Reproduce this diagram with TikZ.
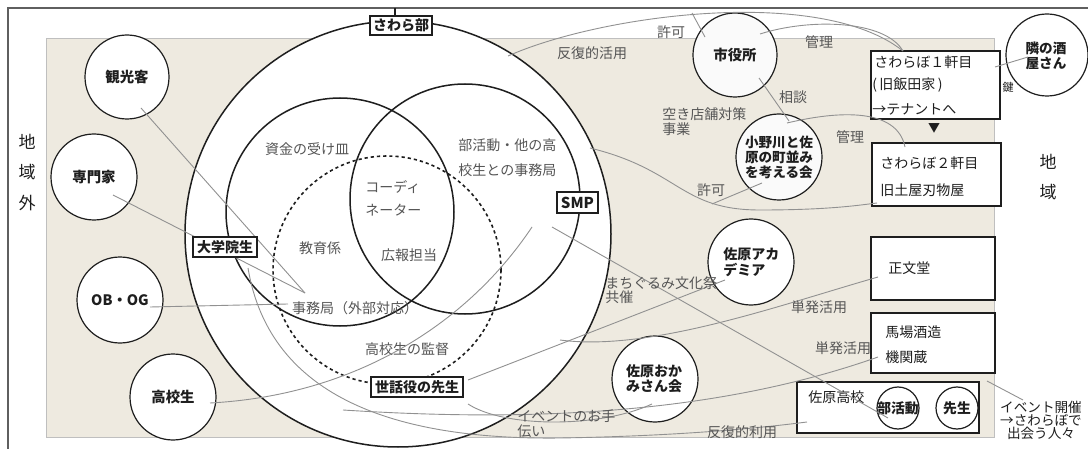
\documentclass[tikz,border=0pt]{standalone}
\usepackage{fontspec}
\setmainfont{Noto Sans CJK JP}
\definecolor{beige}{RGB}{238,234,224}
\definecolor{lblc}{RGB}{85,85,85}
\definecolor{connc}{RGB}{145,145,145}
\definecolor{ink}{RGB}{30,30,30}
\definecolor{framec}{RGB}{95,95,95}
\begin{document}
\begin{tikzpicture}[x=0.5pt,y=-0.5pt,
  circ/.style={circle, draw=ink, line width=0.6pt, fill=white, inner sep=0pt},
  ctext/.style={inner sep=0pt, text=ink, font=\fontsize{7.2}{7.2}\selectfont\bfseries, align=center},
  bigc/.style={circle, draw=ink, line width=0.75pt, inner sep=0pt},
  boxn/.style={draw=ink, line width=0.75pt, fill=white, inner sep=0pt},
  tagbox/.style={draw=ink, line width=0.7pt, fill=white, inner sep=1.3pt, text=ink, font=\fontsize{7}{7}\selectfont\bfseries},
  lbl/.style={text=lblc, font=\fontsize{7}{7}\selectfont, inner sep=0pt},
  btxt/.style={text=ink, font=\fontsize{7}{7}\selectfont, inner sep=0pt, anchor=west},
  conn/.style={draw=connc, line width=0.45pt},
  big/.style={text=ink, font=\fontsize{8.5}{8.5}\selectfont, inner sep=0pt}]
\useasboundingbox (0,0) rectangle (1088,449);
% frame and region
\fill[white] (0,0) rectangle (1088,449);
\draw[framec, line width=1pt] (8,449) -- (8,8) -- (1088,8);
\fill[beige] (46,39) rectangle (994,437);
\draw[black!25, line width=0.5pt] (46,39) rectangle (994,437);

% region labels
\node[big] (gai1) at (27,142) {地};
\node[big] (gai2) at (27,172) {域};
\node[big] (gai3) at (27,203) {外};
\node[big] (nai1) at (1048,162) {地};
\node[big] (nai2) at (1048,192) {域};

% big circles
\node[bigc, fill=white, minimum size=213pt] (bukai) at (398,234) {};
\node[bigc, minimum size=114pt] (shikin) at (340,212) {};
\node[bigc, minimum size=115pt] (jimukyoku) at (465,199) {};
\node[circle, draw=ink, line width=0.8pt, dash pattern=on 1.6pt off 1.5pt, inner sep=0pt, minimum size=114pt] (kyoiku) at (387,270) {};

% inner labels
\node[lbl] (t1) at (307,149) {資金の受け皿};
\node[lbl, anchor=west] (t2) at (365,187) {コーディ};
\node[lbl, anchor=west] (t3) at (365,210) {ネーター};
\node[lbl, anchor=west] (t4) at (458,145) {部活動・他の高};
\node[lbl, anchor=west] (t5) at (458,170) {校生との事務局};
\node[lbl] (t6) at (320,248) {教育係};
\node[lbl] (t7) at (409,255) {広報担当};
\node[lbl] (t8) at (355,308) {事務局（外部対応）};
\node[lbl] (t9) at (407,349) {高校生の監督};

% small circles left
\node[circ, minimum size=42pt] (kanko) at (127,77) {};
\node[ctext] at (kanko) {観光客};
\node[circ, minimum size=43pt] (senmon) at (94,177) {};
\node[ctext] at (senmon) {専門家};
\node[circ, minimum size=43pt] (obog) at (120,300) {};
\node[ctext] at (obog) {OB・OG};
\node[circ, minimum size=43pt] (koko) at (173,397) {};
\node[ctext] at (koko) {高校生};

% right circles
\node[circ, fill=black!2, minimum size=42pt] (shiyaku) at (735,55) {};
\node[ctext] at (shiyaku) {市役所};
\node[circ, fill=black!2, minimum size=43pt] (onogawa) at (779,157) {};
\node[ctext, font=\fontsize{6.8}{5.6}\selectfont\bfseries] at (onogawa) {小野川と佐\\原の町並み\\を考える会};
\node[circ, minimum size=41pt] (sakaya) at (1047,55) {};
\node[ctext, font=\fontsize{6.8}{6.2}\selectfont\bfseries] at (1046,56) {隣の酒\\屋さん};
\node[circ, minimum size=43pt] (academia) at (751,262) {};
\node[ctext, font=\fontsize{7}{6.6}\selectfont\bfseries, align=left, anchor=west] at (723,262) {佐原アカ\\デミア};
\node[circ, minimum size=43pt] (okami) at (655,379) {};
\node[ctext, font=\fontsize{7}{6.6}\selectfont\bfseries] at (654,379) {佐原おか\\みさん会};

% boxes
\node[boxn, minimum width=64.5pt, minimum height=34pt] (sawarabo1) at (935.5,85) {};
\node[btxt] at (874,62) {さわらぼ１軒目};
\node[btxt] at (872,85) {(\,旧飯田家\,)};
\node[btxt] at (872,109) {→テナントへ};
\node[text=ink, font=\fontsize{6}{6}\selectfont, inner sep=0pt] (arrowdown) at (934,128) {▼};
\node[boxn, minimum width=64.5pt, minimum height=31.5pt] (sawarabo2) at (936.5,174.5) {};
\node[btxt] at (880,163) {さわらぼ２軒目};
\node[btxt] at (880,190) {旧土屋刃物屋};
\node[boxn, minimum width=62pt, minimum height=31.5pt] (shobundo) at (933,268.5) {};
\node[btxt] at (888,268) {正文堂};
\node[boxn, minimum width=62pt, minimum height=30pt] (baba) at (933,343) {};
\node[btxt] at (885,332) {馬場酒造};
\node[btxt] at (885,357) {機関蔵};
\node[boxn, minimum width=91pt, minimum height=25.5pt] (sawarakoko) at (888,407.5) {};
\node[btxt] at (808,397) {佐原高校};
\node[circ, minimum size=21pt] (bukatsu) at (898,408) {};
\node[ctext, font=\fontsize{6.9}{6.9}\selectfont\bfseries] at (bukatsu) {部活動};
\node[circ, minimum size=21pt] (sensei) at (957,408) {};
\node[ctext, font=\fontsize{6.9}{6.9}\selectfont\bfseries] at (sensei) {先生};

% connector coordinates
\coordinate (jimuP) at (305,293);
\coordinate (kankoP) at (141,108);
\coordinate (senmonP) at (113,195);
\coordinate (obogP) at (150,307);
\coordinate (jimuL) at (288,304);
\coordinate (kokoP) at (210,403);
\coordinate (smpA) at (532,227);
\coordinate (smpB) at (552,227);
\coordinate (bukatsuP) at (888,418);
\coordinate (acadP) at (725,280);
\coordinate (sewaR) at (468,380);
\coordinate (bukaiC) at (560,340);
\coordinate (shobunP) at (878,277);
\coordinate (babaP) at (878,357);
\coordinate (sewaB) at (343,410);
\coordinate (daigakuP) at (248,268);
\coordinate (kokoB) at (807,422);
\coordinate (okamiP) at (652,404);
\coordinate (sewaE) at (468,404);
\coordinate (bukaiT) at (508,56);
\coordinate (s1top) at (903,51);
\coordinate (shiyakuK) at (705,37);
\coordinate (kyokaJ) at (692,13);
\coordinate (shiyakuR) at (760,34);
\coordinate (shiyakuB) at (759,78);
\coordinate (onoT) at (789,121);
\coordinate (onoR) at (787,123);
\coordinate (s2top) at (905,147);
\coordinate (jimuR) at (590,148);
\coordinate (s2bot) at (877,203);
\coordinate (onoB) at (762,183);
\coordinate (kyokaJ2) at (712,204);
\coordinate (sakayaP) at (1028,57);
\coordinate (s1R) at (995,67);
\coordinate (eventA) at (987,381);
\coordinate (eventB) at (1023,400);

% connectors
\draw[conn] (kankoP) -- (jimuP);
\draw[conn] (senmonP) -- (jimuP);
\draw[conn] (obogP) -- (jimuL);
\draw[conn] (kokoP) .. controls (360,395) and (470,320) .. (smpA);
\draw[conn] (smpB) -- (bukatsuP);
\draw[conn] (acadP) -- (sewaR);
\draw[conn] (bukaiC) .. controls (650,352) and (780,305) .. (shobunP);
\draw[conn] (sewaB) .. controls (500,420) and (700,420) .. (babaP);
\draw[conn] (daigakuP) .. controls (270,400) and (400,440) .. (560,438) .. controls (680,436) and (760,428) .. (kokoB);
\draw[conn] (okamiP) .. controls (600,428) and (505,428) .. (sewaE);
\draw[conn] (bukaiT) .. controls (600,15) and (820,-15) .. (s1top);
\draw[conn] (shiyakuK) -- (kyokaJ);
\draw[conn] (shiyakuR) .. controls (810,18) and (885,20) .. (s1top);
\draw[conn] (shiyakuB) -- (onoT);
\draw[conn] (onoR) .. controls (850,108) and (898,112) .. (s2top);
\draw[conn] (jimuR) .. controls (680,170) and (680,210) .. (760,210) .. controls (830,210) and (860,205) .. (s2bot);
\draw[conn] (onoB) -- (kyokaJ2);
\draw[conn] (sakayaP) -- (s1R);
\draw[conn] (eventA) -- (eventB);

% connector labels
\node[lbl] (l1) at (592,53) {反復的活用};
\node[lbl] (l2) at (671,32) {許可};
\node[lbl] (l3) at (819,42) {管理};
\node[lbl] (l4) at (793,97) {相談};
\node[lbl, anchor=west, align=left, font=\fontsize{7}{5.6}\selectfont] (l5) at (662,122) {空き店舗対策\\事業};
\node[lbl] (l6) at (850,137) {管理};
\node[lbl] (l7) at (711,190) {許可};
\node[lbl, anchor=west, align=left, font=\fontsize{7}{7}\selectfont] (l8) at (605,290) {まちぐるみ文化祭\\共催};
\node[lbl] (l9) at (819,307) {単発活用};
\node[lbl] (l10) at (843,348) {単発活用};
\node[lbl] (l11) at (742,432) {反復的利用};
\node[lbl, anchor=west, align=left, font=\fontsize{7}{6}\selectfont] (l12) at (517,424) {イベントのお手\\伝い};
\node[lbl, text=ink, font=\fontsize{5.5}{5.5}\selectfont] (l13) at (1008,87) {鍵};
\node[text=ink, font=\fontsize{6.8}{6.5}\selectfont, inner sep=0pt, align=center] (l14) at (1041,420) {イベント開催\\→さわらぼで\\出会う人々};

% tag boxes
\node[tagbox, minimum width=31pt, minimum height=9.5pt] (sawarabu) at (401,25.5) {さわら部};
\coordinate (topf) at (395,8);
\draw[ink, line width=0.6pt] (topf) -- (topf |- sawarabu.north);
\node[tagbox, minimum width=20.5pt, minimum height=10.5pt, font=\fontsize{7.5}{7.5}\selectfont\bfseries] (smp) at (577.5,202.5) {SMP};
\node[tagbox, minimum width=32pt, minimum height=10pt] (daigaku) at (225,247) {大学院生};
\node[tagbox, minimum width=46pt, minimum height=10pt] (sewa) at (417,387) {世話役の先生};
\end{tikzpicture}
\end{document}
